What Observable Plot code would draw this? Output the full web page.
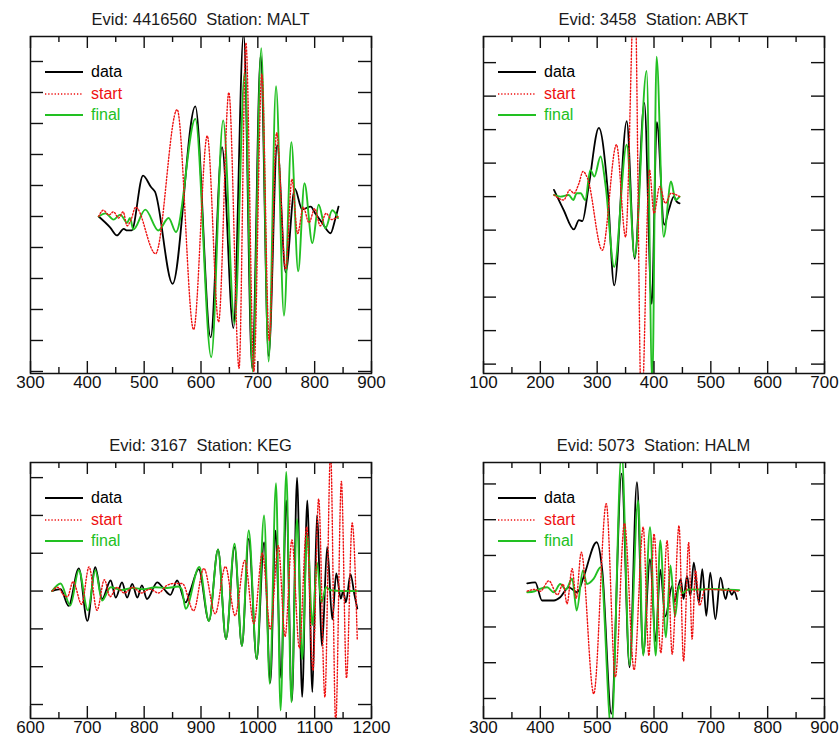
<!DOCTYPE html>
<html>
<head>
<meta charset="utf-8">
<script src="https://cdn.jsdelivr.net/npm/d3@7"></script>
<script src="https://cdn.jsdelivr.net/npm/@observablehq/plot@0.6"></script>
<style>
  body { margin: 0; background: #fff; }
  #root { position: relative; width: 839px; height: 740px; overflow: hidden; background: #fff;
          font-family: "Liberation Sans", Arial, sans-serif; }
  .panel { position: absolute; }
  .title { position: absolute; white-space: pre; text-align: center; font-size: 16.5px; line-height: 22px; color: #1a1a1a; }
  .lrow { position: absolute; display: flex; align-items: center; height: 22px; white-space: pre; }
  .lrow span { font-size: 16px; line-height: 22px; margin-left: 8px; }
</style>
</head>
<body>
<div id="root"></div>
<script>
// ---------- titles ----------
const titles = [
  "Evid: 4416560  Station: MALT",
  "Evid: 3458  Station: ABKT",
  "Evid: 3167  Station: KEG",
  "Evid: 5073  Station: HALM"
];

// ---------- x tick labels ----------
const p1XTicks = [300, 400, 500, 600, 700, 800, 900];
const p2XTicks = [100, 200, 300, 400, 500, 600, 700];
const p3XTicks = [600, 700, 800, 900, 1000, 1100, 1200];
const p4XTicks = [300, 400, 500, 600, 700, 800, 900];
const p1XMinor = [350, 450, 550, 650, 750, 850];
const p2XMinor = [150, 250, 350, 450, 550, 650];
const p3XMinor = [650, 750, 850, 950, 1050, 1150];
const p4XMinor = [350, 450, 550, 650, 750, 850];
const p1YTicks = [-5, -4, -3, -2, -1, 0, 1, 2, 3, 4, 5];
const p2YTicks = [-5, -4, -3, -2, -1, 0, 1, 2, 3, 4];
const p3YTicks = [-3, -2, -1, 0, 1, 2, 3];
const p4YTicks = [-3, -2, -1, 0, 1, 2, 3];

// ---------- Panel 1 (MALT) ----------
const p1DataT  = [420,440,452,464,470,478,498,512,519,550,590,617,637,657,675,690,705,719,734,749,765,778,793,801,813,828,836,842];
const p1DataY  = [0.0,-0.35,-0.61,-0.4,-0.45,-0.45,1.32,0.95,0.8,-2.17,3.55,-3.9,2.24,-3.6,5.9,-4.9,5.2,-4.5,2.3,-1.8,0.9,0.23,0.32,0.1,-0.2,-0.54,-0.1,0.32];
const p1StartT = [420,428,438,446,455,463,470,477,485,520,558,587,611,631,649,667,679,693,707,720,733,749,760,770,780,790,800,810,820,830,841];
const p1StartY = [0,0.2,0.05,0.15,-0.05,0.15,-0.3,-0.1,0.3,-1.2,3.45,-3.65,2.6,-3.4,4.0,-4.9,5.6,-5.0,4.6,-4.0,2.7,-1.7,1.2,-0.55,0.3,-0.2,0.25,-0.3,0.1,-0.1,0.0];
const p1FinalT = [420,432,446,458,470,475,481,502,525,543,556,590,618,639,659,677,691,706,719,732,746,759,771,782,796,807,819,831,841];
const p1FinalY = [0,0.1,-0.1,0.06,-0.2,-0.05,-0.42,0.22,-0.45,-0.05,-0.5,3.15,-4.54,3.1,-3.45,4.66,-5.0,5.43,-4.68,4.2,-3.2,2.4,-1.77,1.07,-0.86,0.38,-0.38,0.2,-0.05];

// ---------- Panel 2 (ABKT) ----------
const p2DataT  = [224,241,259,268,274,285,303,318,330,352,366,383,396,405,418,426,435,440,445];
const p2DataY  = [0.2,-0.4,-0.98,-0.7,-0.73,0.3,2.05,0.3,-2.65,2.25,-1.85,2.8,-3.2,2.22,-0.84,-0.4,0.0,-0.15,-0.2];
const p2StartT = [224,241,252,259,268,275,283,309,334,350,366,378,392,400,410,420,430,445];
const p2StartY = [0.05,-0.1,0.2,0.1,0.4,0.75,0.55,-1.6,1.55,-1.2,6.5,-6.5,0.8,-0.5,0.3,-0.2,0.1,0.0];
const p2FinalT = [224,235,250,258,264,271,279,288,295,306,315,330,352,366,387,397,404.5,417,430,438,445];
const p2FinalY = [0.05,0.0,0.05,-0.1,0.1,0.1,-0.1,0.8,0.6,1.2,0.3,-2.1,1.55,-1.8,3.75,-5.6,4.18,-1.2,0.45,-0.1,0.0];

// ---------- Panel 3 (KEG) ----------
const p3DataT  = [638,653,667,685,700,714,726,741,750,761,770,779,788,796,805,823,835,846,858,873,881,896,914,930,944,959,972,984,998,1011,1022,1031,1041,1050,1060,1069,1078,1087,1096,1104,1113,1122,1131,1138,1146,1150,1155,1163,1170,1175];
const p3DataY  = [0,0.05,-0.39,0.6,-0.79,0.63,-0.21,0.28,-0.17,0.23,-0.17,0.19,-0.17,0.15,-0.21,0.23,0.05,-0.1,0.28,-0.3,0.0,0.58,-0.79,1.1,-1.27,1.16,-1.45,1.38,-1.8,1.29,-2.42,1.6,-2.3,2.4,-2.9,3.0,-2.8,2.4,-2.67,2.0,-1.45,1.17,-0.75,0.47,-0.2,0.0,-0.3,0.45,-0.1,-0.46];
const p3StartT = [638,648,658,665,675,690,703,717,730,740,752,765,780,795,810,825,840,852,867,887,905,925,943,960,977,993,1008,1022,1036,1048,1060,1073,1086,1097,1107,1118,1128,1137,1147,1156,1166,1175];
const p3StartY = [0,0.1,-0.1,-0.15,0.25,-0.35,0.64,-0.51,0.3,-0.15,0.1,-0.05,0.1,-0.05,0.05,-0.05,0.15,0.2,0.2,-0.52,0.6,-0.6,0.65,-0.65,0.81,-0.86,1.0,-1.0,1.2,-1.2,1.35,-1.5,1.7,-2.1,2.44,-2.8,3.7,-3.5,2.9,-2.3,1.8,-1.3];
const p3FinalT = [638,653,670,685,701,714,726,741,760,780,800,820,840,860,866,873,897,914,930,944,959,972,984,998,1011,1021,1032,1040,1050,1059,1069,1078,1087,1096,1104,1112,1120,1128,1150,1175];
const p3FinalY = [0,0.2,-0.38,0.55,-0.51,0.55,-0.25,0.1,0.03,0.08,0.05,0.1,0.08,0.12,0.05,-0.47,0.64,-0.79,1.1,-1.27,1.25,-1.45,1.6,-1.8,2.0,-2.45,2.85,-3.16,3.15,-2.94,1.9,-1.8,1.5,-0.9,0.76,-0.3,0.1,0.02,0.0,0.0];

// ---------- Panel 4 (HALM) ----------
const p4DataT  = [377,391,403,424,435,450,465,476,499,509,525,543,557,570,581,593,603,611,620,632,636,647,652,658,664,670,679,685,692,699,708,717,726,731,737,741,746];
const p4DataY  = [0.22,0.25,-0.26,-0.26,-0.17,0.11,-0.03,0.39,1.37,0.58,-3.43,3.29,-2.13,3.05,-1.75,0.9,-1.4,0.6,-0.7,0.15,-0.3,0.34,-0.22,0.43,-0.13,0.8,-0.32,0.62,-0.69,0.52,-0.78,0.38,-0.22,0.07,-0.1,0.0,-0.22];
const p4StartT = [377,390,400,415,430,440,447,456,463,472,494,516,532,548,565,581,591,600,612,623,632,644,652,661,667,673,680,690,750];
const p4StartY = [0,0.05,0,0.29,-0.1,0.2,-0.35,0.63,-0.2,1.09,-2.87,2.45,-2.4,1.9,-2.2,1.79,-1.8,1.6,-1.72,1.41,-1.76,1.83,-1.95,1.36,-1.34,0.58,-0.4,0.05,0];
const p4FinalT = [377,390,397,412,424,435,445,456,464,475,482,494,506,525,543,557,572,581,593,603,611,621,629,637,644,650,660,680,700,720,750];
const p4FinalY = [-0.03,0.0,0.05,0.11,-0.03,0.2,0.05,0.35,-0.54,0.58,0.2,0.35,0.67,-3.9,3.9,-2.06,2.54,-1.8,1.79,-1.8,1.42,-1.29,0.72,-0.7,0.15,-0.05,0.05,0.05,0.06,0.05,0.03];

// ---------- styling ----------
const BLACK = "#000000", RED = "#ee1111", GREEN = "#22c022";
const FONT = '"Liberation Sans", Arial, sans-serif';

const rows = (T, Y) => T.map((t, i) => ({t, v: Y[i]}));

const panels = [
  {left: 0,   top: 0,   width: 420, height: 400, ml: 30, mr: 49, mt: 36, mb: 27,
   xDomain: [300, 900],  yDomain: [-5.065, 5.806], xTicks: p1XTicks, xMinor: p1XMinor, yTicks: p1YTicks,
   data: [p1DataT, p1DataY], start: [p1StartT, p1StartY], final: [p1FinalT, p1FinalY], title: titles[0]},
  {left: 420, top: 0,   width: 419, height: 400, ml: 63, mr: 15, mt: 36, mb: 27,
   xDomain: [100, 700],  yDomain: [-5.28, 4.78], xTicks: p2XTicks, xMinor: p2XMinor, yTicks: p2YTicks,
   data: [p2DataT, p2DataY], start: [p2StartT, p2StartY], final: [p2FinalT, p2FinalY], title: titles[1]},
  {left: 0,   top: 400, width: 420, height: 340, ml: 30, mr: 49, mt: 62, mb: 22,
   xDomain: [600, 1200], yDomain: [-3.37, 3.40], xTicks: p3XTicks, xMinor: p3XMinor, yTicks: p3YTicks,
   data: [p3DataT, p3DataY], start: [p3StartT, p3StartY], final: [p3FinalT, p3FinalY], title: titles[2]},
  {left: 420, top: 400, width: 419, height: 340, ml: 63, mr: 15, mt: 62, mb: 22,
   xDomain: [300, 900],  yDomain: [-3.56, 3.60], xTicks: p4XTicks, xMinor: p4XMinor, yTicks: p4YTicks,
   data: [p4DataT, p4DataY], start: [p4StartT, p4StartY], final: [p4FinalT, p4FinalY], title: titles[3]}
];

const root = document.getElementById("root");

panels.forEach(cfg => {
  const fw = cfg.width - cfg.ml - cfg.mr;
  const fh = cfg.height - cfg.mt - cfg.mb;
  const tickStroke = {stroke: "#111", strokeWidth: 1.4};
  const chart = Plot.plot({
    width: cfg.width,
    height: cfg.height,
    marginLeft: cfg.ml, marginRight: cfg.mr, marginTop: cfg.mt, marginBottom: cfg.mb,
    x: {domain: cfg.xDomain},
    y: {domain: cfg.yDomain, axis: null},
    style: {fontFamily: FONT, fontSize: "17px", background: "transparent", overflow: "visible", color: "#111"},
    marks: [
      Plot.line(rows(...cfg.data),  {x: "t", y: "v", stroke: BLACK, strokeWidth: 1.8, curve: "monotone-x", clip: true}),
      Plot.line(rows(...cfg.final), {x: "t", y: "v", stroke: GREEN, strokeWidth: 1.9, curve: "monotone-x", clip: true}),
      Plot.line(rows(...cfg.start), {x: "t", y: "v", stroke: RED, strokeWidth: 1.4, strokeDasharray: "1.3,1.9", curve: "monotone-x", clip: true}),
      // inward ticks: x major (top & bottom), x minor, y (left & right)
      Plot.ruleX(cfg.xTicks, {x: d => d, insetBottom: fh - 12, ...tickStroke}),
      Plot.ruleX(cfg.xTicks, {x: d => d, insetTop: fh - 12, ...tickStroke}),
      Plot.ruleX(cfg.xMinor, {x: d => d, insetBottom: fh - 6, ...tickStroke}),
      Plot.ruleX(cfg.xMinor, {x: d => d, insetTop: fh - 6, ...tickStroke}),
      Plot.ruleY(cfg.yTicks, {y: d => d, insetRight: fw - 13, ...tickStroke}),
      Plot.ruleY(cfg.yTicks, {y: d => d, insetLeft: fw - 13, ...tickStroke}),
      Plot.frame({stroke: "#111", strokeWidth: 1.5}),
      Plot.axisX({ticks: cfg.xTicks, tickSize: 0, tickPadding: 2, fontSize: 17, label: null, tickFormat: d => String(d)})
    ]
  });
  const div = document.createElement("div");
  div.className = "panel";
  div.style.left = cfg.left + "px";
  div.style.top = cfg.top + "px";
  div.appendChild(chart);
  root.appendChild(div);

  // title
  const fl = cfg.left + cfg.ml, ft = cfg.top + cfg.mt;
  const t = document.createElement("div");
  t.className = "title";
  t.style.left = fl + "px";
  t.style.width = fw + "px";
  t.style.top = (ft - 28) + "px";
  t.textContent = cfg.title;
  root.appendChild(t);

  // legend
  const items = [
    {label: "data",  color: BLACK, w: 1.8, dash: ""},
    {label: "start", color: RED,   w: 1.4, dash: 'stroke-dasharray="1.3,1.9"'},
    {label: "final", color: GREEN, w: 1.9, dash: ""}
  ];
  items.forEach((it, i) => {
    const r = document.createElement("div");
    r.className = "lrow";
    r.style.left = (fl + 15) + "px";
    r.style.top = (ft + 36 + i * 21.5 - 11) + "px";
    r.innerHTML = `<svg width="38" height="6"><line x1="0" x2="38" y1="3" y2="3" stroke="${it.color}" stroke-width="${it.w}" ${it.dash}/></svg><span style="color:${it.color}">${it.label}</span>`;
    root.appendChild(r);
  });
});
</script>
</body>
</html>
